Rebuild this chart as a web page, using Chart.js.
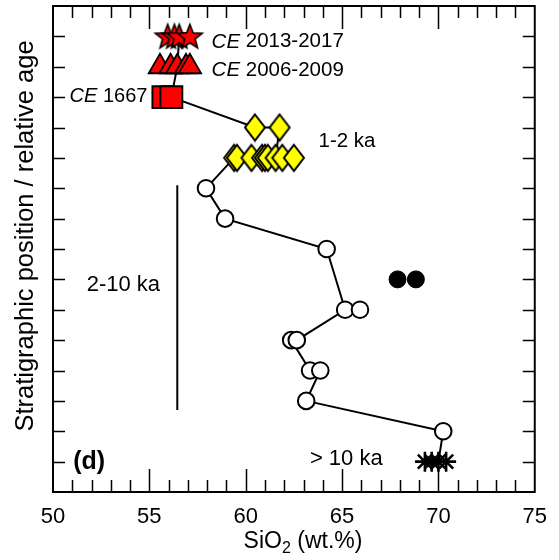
<!DOCTYPE html>
<html>
<head>
<meta charset="utf-8">
<script src="https://cdn.jsdelivr.net/npm/chart.js@4.4.1/dist/chart.umd.min.js"></script>
<style>
html,body{margin:0;padding:0;background:#fff;}
#wrap{width:559px;height:560px;position:relative;}
</style>
</head>
<body>
<div id="wrap"><canvas id="c" width="559" height="560"></canvas></div>
<script>
// ---- data (SiO2 wt.% vs stratigraphic level) ----
const xTicks = [50, 55, 60, 65, 70, 75];
const starsX = [55.95, 56.3, 56.55, 57.1];      const starsY = [15, 15, 15, 15];
const triX = [55.55, 56.1, 56.45, 56.9, 57.1];  const triY = [14, 14, 14, 14, 14];
const sqX = [55.73, 56.14];                     const sqY = [13, 13];
const diaX = [60.48, 61.76, 59.4, 59.55, 60.3, 60.85, 61.0, 61.15, 61.55, 61.9, 62.5];
const diaY = [12, 12, 11, 11, 11, 11, 11, 11, 11, 11, 11];
const openX = [57.94, 58.93, 64.2, 65.16, 65.93, 62.36, 62.65, 63.34, 63.87, 63.14, 70.25];
const openY = [10, 9, 8, 6, 6, 5, 5, 4, 4, 3, 2];
const filledX = [67.88, 68.83];                 const filledY = [7, 7];
const astX = [69.3, 69.65, 70.0, 70.4];         const astY = [1, 1, 1, 1];
const pathX = [56.55, 56.45, 56.14, 60.48, 61.76, 61.55, 59.4, 57.94, 58.93, 64.2, 65.16, 62.65, 62.36, 63.34, 63.87, 63.14, 70.25, 70.0];
const pathY = [15, 14, 13, 12, 12, 11, 11, 10, 9, 8, 6, 5, 5, 4, 4, 3, 2, 1];
const barX = [56.45, 56.45];                    const barY = [10.1, 2.7];
const labels = [
  {pre: 'CE', text: ' 2013-2017', x: 58.23, y: 14.82, align: 'left', size: 20.5},
  {pre: 'CE', text: ' 2006-2009', x: 58.23, y: 13.89, align: 'left', size: 20.5},
  {pre: 'CE', text: ' 1667', x: 54.9, y: 13.01, align: 'right', size: 20},
  {pre: '', text: '1-2 ka', x: 63.78, y: 11.53, align: 'left', size: 20.5},
  {pre: '', text: '2-10 ka', x: 51.75, y: 6.81, align: 'left', size: 22},
  {pre: '', text: '> 10 ka', x: 63.33, y: 1.1, align: 'left', size: 22},
  {pre: '', text: '(d)', x: 51.05, y: 1.0, align: 'left', size: 25, bold: true}
];

const FONT = '"Liberation Sans", Arial, sans-serif';
const pts = (xs, ys) => xs.map((x, i) => ({x: x, y: ys[i]}));

function makeDiamond(w, h, fill) {
  const lw = 2, c = document.createElement('canvas');
  c.width = w + 4; c.height = h + 4;
  const g = c.getContext('2d');
  const cx = c.width / 2, cy = c.height / 2;
  g.beginPath();
  g.moveTo(cx, cy - h / 2); g.lineTo(cx + w / 2, cy); g.lineTo(cx, cy + h / 2); g.lineTo(cx - w / 2, cy); g.closePath();
  g.fillStyle = fill; g.fill(); g.lineWidth = lw; g.strokeStyle = '#000'; g.lineJoin = 'miter'; g.stroke();
  return c;
}
function makeStar(R, r, fill) {
  const c = document.createElement('canvas');
  c.width = 2 * R + 6; c.height = 2 * R + 6;
  const g = c.getContext('2d');
  const cx = c.width / 2, cy = c.height / 2 + 1;
  g.beginPath();
  for (let i = 0; i < 10; i++) {
    const a = -Math.PI / 2 + i * Math.PI / 5;
    const rr = i % 2 === 0 ? R : r;
    const px = cx + rr * Math.cos(a), py = cy + rr * Math.sin(a);
    if (i === 0) g.moveTo(px, py); else g.lineTo(px, py);
  }
  g.closePath();
  g.fillStyle = fill; g.fill(); g.lineWidth = 1.6; g.strokeStyle = '#000'; g.stroke();
  return c;
}
const diamondImg = makeDiamond(20, 26, '#ffff00');
const starImg = makeStar(13, 5.5, '#ff0000');

const framePlugin = {
  id: 'frame',
  beforeDatasetsDraw(chart) {
    const {ctx, chartArea: a, scales: {x, y}} = chart;
    ctx.save();
    ctx.strokeStyle = '#000'; ctx.lineWidth = 1.5;
    ctx.beginPath();
    for (let v = 51; v < 75; v++) {
      const px = Math.round(x.getPixelForValue(v)) + 0.5;
      const len = v % 5 === 0 ? 23 : 12;
      ctx.moveTo(px, a.bottom); ctx.lineTo(px, a.bottom - len);
      ctx.moveTo(px, a.top); ctx.lineTo(px, a.top + len);
    }
    for (let v = 1; v < 16; v++) {
      const py = Math.round(y.getPixelForValue(v)) + 0.5;
      ctx.moveTo(a.left, py); ctx.lineTo(a.left + 12, py);
      ctx.moveTo(a.right, py); ctx.lineTo(a.right - 12, py);
    }
    ctx.stroke();
    ctx.restore();
  },
  afterDraw(chart) {
    const {ctx, chartArea: a, scales: {x, y}} = chart;
    ctx.save();
    ctx.strokeStyle = '#000'; ctx.lineWidth = 2;
    ctx.strokeRect(a.left, a.top, a.right - a.left, a.bottom - a.top);
    // annotation texts
    ctx.fillStyle = '#000'; ctx.textBaseline = 'middle';
    labels.forEach(l => {
      const px = x.getPixelForValue(l.x), py = y.getPixelForValue(l.y);
      const mainFont = (l.bold ? 'bold ' : '') + l.size + 'px ' + FONT;
      const preFont = 'italic ' + l.size + 'px ' + FONT;
      ctx.font = preFont; const wPre = l.pre ? ctx.measureText(l.pre).width : 0;
      ctx.font = mainFont; const wMain = ctx.measureText(l.text).width;
      let left = l.align === 'right' ? px - wPre - wMain : px;
      ctx.textAlign = 'left';
      if (l.pre) { ctx.font = preFont; ctx.fillText(l.pre, left, py); }
      ctx.font = mainFont; ctx.fillText(l.text, left + wPre, py);
    });
    // x axis title with subscript
    const f = '23px ' + FONT, fs = '16px ' + FONT;
    ctx.font = f; const w1 = ctx.measureText('SiO').width;
    ctx.font = fs; const w2 = ctx.measureText('2').width;
    ctx.font = f; const w3 = ctx.measureText(' (wt.%)').width;
    const tx = 303 - (w1 + w2 + w3) / 2, ty = 542;
    ctx.textAlign = 'left';
    ctx.font = f; ctx.fillText('SiO', tx, ty);
    ctx.font = fs; ctx.fillText('2', tx + w1, ty + 7);
    ctx.font = f; ctx.fillText(' (wt.%)', tx + w1 + w2, ty);
    // y axis title
    ctx.translate(26, 236); ctx.rotate(-Math.PI / 2);
    ctx.textAlign = 'center'; ctx.font = '25.5px ' + FONT;
    ctx.fillText('Stratigraphic position / relative age', 0, 0);
    ctx.restore();
  }
};

new Chart(document.getElementById('c'), {
  type: 'scatter',
  data: {
    datasets: [
      {data: pts(starsX, starsY), pointStyle: starImg, pointRadius: 10, order: 1},
      {data: pts(triX, triY), pointStyle: 'triangle', pointRadius: 13, backgroundColor: '#ff0000', borderColor: '#000', borderWidth: 1.8, order: 2},
      {data: pts(sqX, sqY), pointStyle: 'rect', pointRadius: 15.5, backgroundColor: '#ff0000', borderColor: '#000', borderWidth: 2, order: 3},
      {data: pts(diaX, diaY), pointStyle: diamondImg, pointRadius: 10, order: 4},
      {data: pts(openX, openY), pointStyle: 'circle', pointRadius: 8.3, backgroundColor: '#ffffff', borderColor: '#000', borderWidth: 2, order: 5},
      {data: pts(filledX, filledY), pointStyle: 'circle', pointRadius: 8.5, backgroundColor: '#000', borderColor: '#000', borderWidth: 1, order: 6},
      {data: pts(astX, astY), pointStyle: 'star', pointRadius: 10, backgroundColor: '#000', borderColor: '#000', borderWidth: 2.6, order: 7},
      {data: pts(pathX, pathY), showLine: true, pointRadius: 0, borderColor: '#000', borderWidth: 2, fill: false, order: 20},
      {data: pts(barX, barY), showLine: true, pointRadius: 0, borderColor: '#000', borderWidth: 2, fill: false, order: 21}
    ]
  },
  options: {
    responsive: false,
    animation: false,
    events: [],
    layout: {autoPadding: false, padding: {top: 6, right: 20, left: 0, bottom: 0}},
    plugins: {legend: {display: false}, tooltip: {enabled: false}},
    scales: {
      x: {
        type: 'linear', min: 50, max: 75,
        afterBuildTicks: s => { s.ticks = xTicks.map(v => ({value: v})); },
        afterFit: s => { s.height = 68; },
        grid: {display: false, drawTicks: false},
        border: {display: false},
        ticks: {padding: 12, color: '#000', font: {family: FONT, size: 22}, maxRotation: 0}
      },
      y: {
        type: 'linear', min: 0, max: 16,
        afterFit: s => { s.width = 53; },
        grid: {display: false, drawTicks: false},
        border: {display: false},
        ticks: {display: false}
      }
    }
  },
  plugins: [framePlugin]
});
</script>
</body>
</html>
